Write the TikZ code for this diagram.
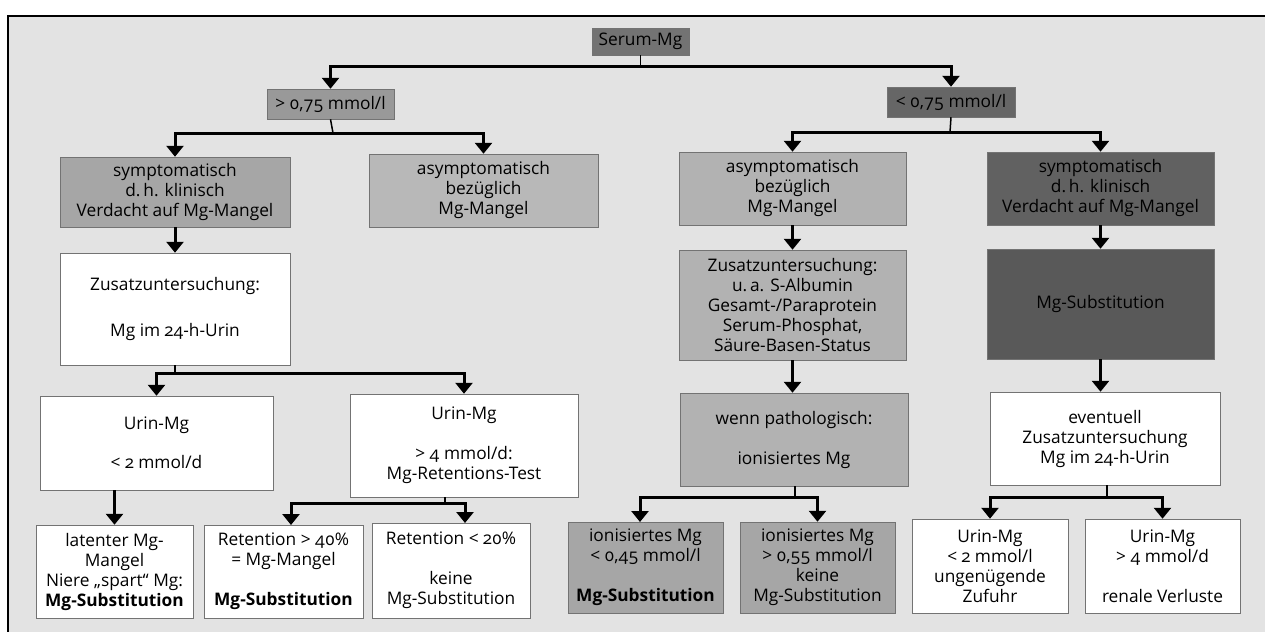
\documentclass[tikz,border=0pt]{standalone}
\usepackage{fontspec}
\setmainfont{Open Sans}[Numbers=OldStyle]
\usetikzlibrary{arrows.meta}
\begin{document}
\begin{tikzpicture}[x=1pt,y=-1pt,
  box/.style={draw=black!55, line width=0.5pt, align=center, inner sep=0pt,
    font=\fontsize{17.3}{20}\selectfont},
  wbox/.style={box, fill=white},
  stem/.style={line width=1.5pt},
  arr/.style={line width=3pt, line join=miter, -{Triangle[width=17pt,length=11pt]}}]
\useasboundingbox (0,0) rectangle (1265,632);
% frame / background
\fill[black!11] (8,16) rectangle (1265,632);
\draw[line width=2pt] (1265,16) -- (8,16) -- (8,632);
% row 0
\node[box, fill=black!55, minimum width=97pt, minimum height=27pt] (serum) at (640.5,41.5) {Serum-Mg};
% row 1
\node[box, fill=black!40, minimum width=127pt, minimum height=30pt] (gt) at (330.5,104) {> 0,75 mmol/l};
\node[box, fill=black!60, minimum width=128pt, minimum height=30pt] (lt) at (951,102) {< 0,75 mmol/l};
% row 2
\node[box, fill=black!35, minimum width=230pt, minimum height=70pt] (L1) at (175,192) {symptomatisch\\d.\,h. klinisch\\Verdacht auf Mg-Mangel};
\node[box, fill=black!28, minimum width=229pt, minimum height=73pt] (L2) at (483.5,190.5) {asymptomatisch\\bezüglich\\Mg-Mangel};
\node[box, fill=black!30, minimum width=227pt, minimum height=73pt] (M1) at (792.5,188.5) {asymptomatisch\\bezüglich\\Mg-Mangel};
\node[box, fill=black!62, minimum width=227pt, minimum height=73pt] (R1) at (1100.5,188.5) {symptomatisch\\d.\,h. klinisch\\Verdacht auf Mg-Mangel};
% row 3
\node[wbox, minimum width=230pt, minimum height=112pt] (L3) at (175,309) {Zusatzuntersuchung:\\[26pt]Mg im 24-h-Urin};
\node[box, fill=black!30, minimum width=227pt, minimum height=110pt] (M2) at (792.5,305) {Zusatzuntersuchung:\\u.\,a. S-Albumin\\Gesamt-/Paraprotein\\Serum-Phosphat,\\Säure-Basen-Status};
\node[box, fill=black!65, minimum width=227pt, minimum height=110pt] (R2) at (1100.5,304) {Mg-Substitution};
% row 4
\node[wbox, minimum width=233pt, minimum height=94pt] (L4) at (156.5,443) {Urin-Mg\\[19pt]< 2 mmol/d};
\node[wbox, minimum width=228pt, minimum height=103pt] (L5) at (464,445.5) {Urin-Mg\\[20pt]> 4 mmol/d:\\Mg-Retentions-Test};
\node[box, fill=black!30, minimum width=228pt, minimum height=93pt] (M4) at (794,439.5) {wenn pathologisch:\\[20pt]ionisiertes Mg};
\node[wbox, minimum width=230pt, minimum height=93pt] (R4) at (1105,438.5) {eventuell\\Zusatzuntersuchung\\Mg im 24-h-Urin};
% row 5
\node[wbox, minimum width=157pt, minimum height=93pt] (B1) at (114.5,571.5) {latenter Mg-\\Mangel\\Niere „spart“ Mg:\\\textbf{Mg-Substitution}};
\node[wbox, minimum width=159pt, minimum height=93pt] (B2) at (283.5,571.5) {Retention > 40\%\\= Mg-Mangel\\[20pt]\textbf{Mg-Substitution}};
\node[wbox, minimum width=158pt, minimum height=95pt] (B3) at (451,570.5) {Retention < 20\%\\[20pt]keine\\Mg-Substitution};
\node[box, fill=black!35, minimum width=155pt, minimum height=91pt] (B4) at (645.5,567.5) {ionisiertes Mg\\< 0,45 mmol/l\\[20pt]\textbf{Mg-Substitution}};
\node[box, fill=black!35, minimum width=155pt, minimum height=91pt] (B5) at (817.5,567.5) {ionisiertes Mg\\> 0,55 mmol/l\\keine\\Mg-Substitution};
\node[wbox, minimum width=156pt, minimum height=94pt] (B6) at (990,566) {Urin-Mg\\< 2 mmol/l\\ungenügende\\Zufuhr};
\node[wbox, minimum width=155pt, minimum height=94pt] (B7) at (1162.5,566) {Urin-Mg\\> 4 mmol/d\\[20pt]renale Verluste};
% connectors
\coordinate (j0) at (640.5,66);
\draw[stem] (serum.south) -- (j0);
\draw[arr] (j0) -| (gt.north);
\draw[arr] (j0) -| (lt.north);
\coordinate (j1) at (333,133);
\draw[stem] (gt.south) -- (j1);
\draw[arr] (j1) -| (L1.north);
\draw[arr] (j1) -| (L2.north);
\coordinate (j2) at (950,132);
\draw[stem] (lt.south) -- (j2);
\draw[arr] (j2) -| (M1.north);
\draw[arr] (j2) -| (R1.north);
\draw[arr] (L1.south) -- (L3.north);
\draw[arr] (M1.south) -- (M1.south |- M2.north);
\draw[arr] (R1.south) -- (R1.south |- R2.north);
\coordinate (j3) at (175,373);
\draw[stem] (L3.south) -- (j3);
\draw[arr] (j3) -| (L4.north);
\draw[arr] (j3) -| (L5.north);
\draw[arr] (M2.south) -- (M2.south |- M4.north);
\draw[arr] (R2.south) -- (R2.south |- R4.north);
\draw[arr] (B1.north |- L4.south) -- (B1.north);
\coordinate (j4) at (445,503);
\coordinate (b2in) at (291,525);
\coordinate (b3in) at (465,523);
\draw[stem] (L5.south -| j4) -- (j4);
\draw[arr] (j4) -| (b2in);
\draw[arr] (j4) -| (b3in);
\coordinate (j5) at (795,497);
\coordinate (b4in) at (640,522);
\draw[stem] (M4.south -| j5) -- (j5);
\draw[arr] (j5) -| (b4in);
\draw[arr] (j5) -| (B5.north);
\coordinate (j6) at (1107,497);
\draw[stem] (R4.south -| j6) -- (j6);
\draw[arr] (j6) -| (B6.north);
\draw[arr] (j6) -| (B7.north);
\end{tikzpicture}
\end{document}
